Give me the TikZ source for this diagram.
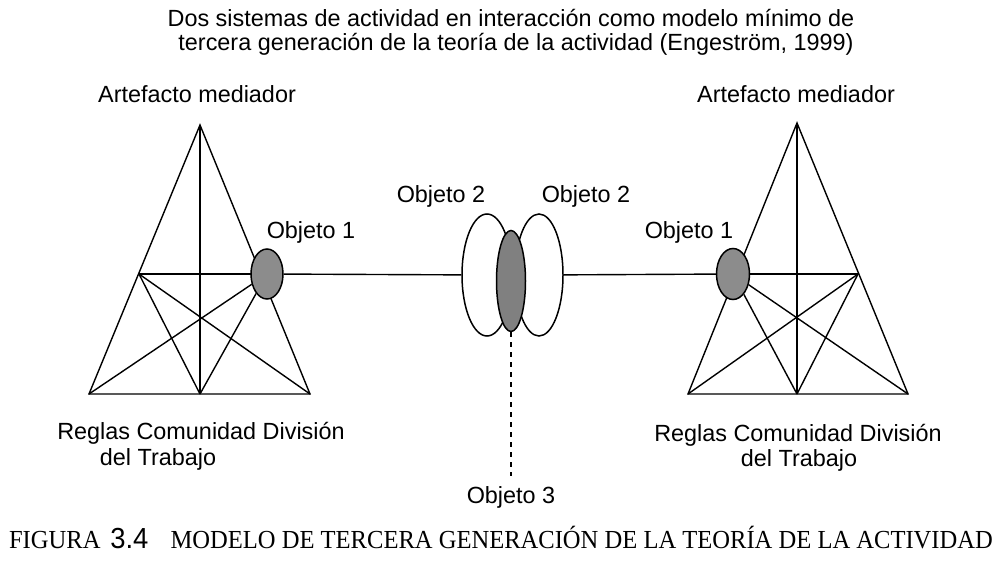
\documentclass[tikz,border=0pt]{standalone}
\usepackage{graphicx}
\usepackage{fontspec}
\setmainfont{Liberation Sans}
\newfontfamily\capfont{Liberation Serif}
\newfontfamily\numfont{Liberation Sans}
\usetikzlibrary{shapes.geometric,backgrounds}

\begin{document}
\begin{tikzpicture}[x=1pt,y=-1pt,
	lbl/.style={font=\fontsize{23.4}{27}\selectfont, inner sep=0pt},
	obj/.style={ellipse, draw, line width=1.5pt, inner sep=0pt},
	lin/.style={line width=1.4pt}]
	\useasboundingbox (0,0) rectangle (1007,569);

	% titulo
	\node[lbl] (tit1) at (511,18) {Dos sistemas de actividad en interacción como modelo mínimo de};
	\node[lbl] (tit2) at (516,44) {tercera generación de la teoría de la actividad (Engeström, 1999)};

	% sistema izquierdo
	\coordinate (apL) at (200,125); \coordinate (mL) at (139,274);
	\coordinate (blL) at (89,394); \coordinate (bmL) at (200,394); \coordinate (brL) at (310,394);
	\node[obj, minimum width=32pt, minimum height=50pt, fill=black!45] (o1L) at (267,274) {};

	% sistema derecho
	\coordinate (apR) at (797,123); \coordinate (mR) at (858,274);
	\coordinate (blR) at (688,394); \coordinate (bmR) at (797,394); \coordinate (brR) at (908,394);
	\node[obj, minimum width=33pt, minimum height=51pt, fill=black!45] (o1R) at (733,274) {};

	% objetos compartidos
	\node[obj, minimum width=50pt, minimum height=122pt, fill=white] (o2L) at (487,275) {};
	\node[obj, minimum width=48pt, minimum height=122pt, fill=white] (o2R) at (539,275) {};
	\node[obj, minimum width=29pt, minimum height=101pt, fill=black!50] (o3) at (511,281) {};
	\coordinate (o3end) at (511,476);
	\draw[line width=1.8pt, dash pattern=on 5pt off 5pt] (o3) -- (o3end);

	\begin{scope}[on background layer]
	\begin{scope}[lin]
		\draw (blL) -- (apL) -- (brL) -- cycle;
		\draw (apL) -- (bmL);
		\draw (mL) -- (o1L.center);
		\draw (mL) -- (brL); \draw (mL) -- (bmL);
		\draw (o1L) -- (blL); \draw (o1L) -- (bmL);
		\draw (o1L) -- (o2L);

		\draw (blR) -- (apR) -- (brR) -- cycle;
		\draw (apR) -- (bmR);
		\draw (mR) -- (o1R.center);
		\draw (mR) -- (blR); \draw (mR) -- (bmR);
		\draw (o1R) -- (brR); \draw (o1R) -- (bmR);
		\draw (o2R) -- (o1R);
	\end{scope}
	\end{scope}

	% etiquetas
	\node[lbl] (artL) at (197,94) {Artefacto mediador};
	\node[lbl] (artR) at (796,94) {Artefacto mediador};
	\node[lbl] (ob1L) at (311,232) {Objeto 1};
	\node[lbl] (ob1R) at (689,232) {Objeto 1};
	\node[lbl] (ob2L) at (441,196) {Objeto 2};
	\node[lbl] (ob2R) at (586,196) {Objeto 2};
	\node[lbl] (ob3) at (511,497) {Objeto 3};
	\node[lbl] (regL) at (201,433) {Reglas Comunidad División};
	\node[lbl] (trabL) at (158,459) {del Trabajo};
	\node[lbl] (regR) at (798,435) {Reglas Comunidad División};
	\node[lbl] (trabR) at (799,460) {del Trabajo};

	% pie
	\node[font=\capfont\fontsize{26}{26}\selectfont, inner sep=0pt] (pie) at (501,538)
		{\scalebox{0.945}[1]{FIGURA\hspace{0.4em}{\numfont\fontsize{29}{29}\selectfont 3.4}\hspace{0.9em}MODELO DE TERCERA GENERACIÓN DE LA TEORÍA DE LA ACTIVIDAD}};
\end{tikzpicture}
\end{document}
